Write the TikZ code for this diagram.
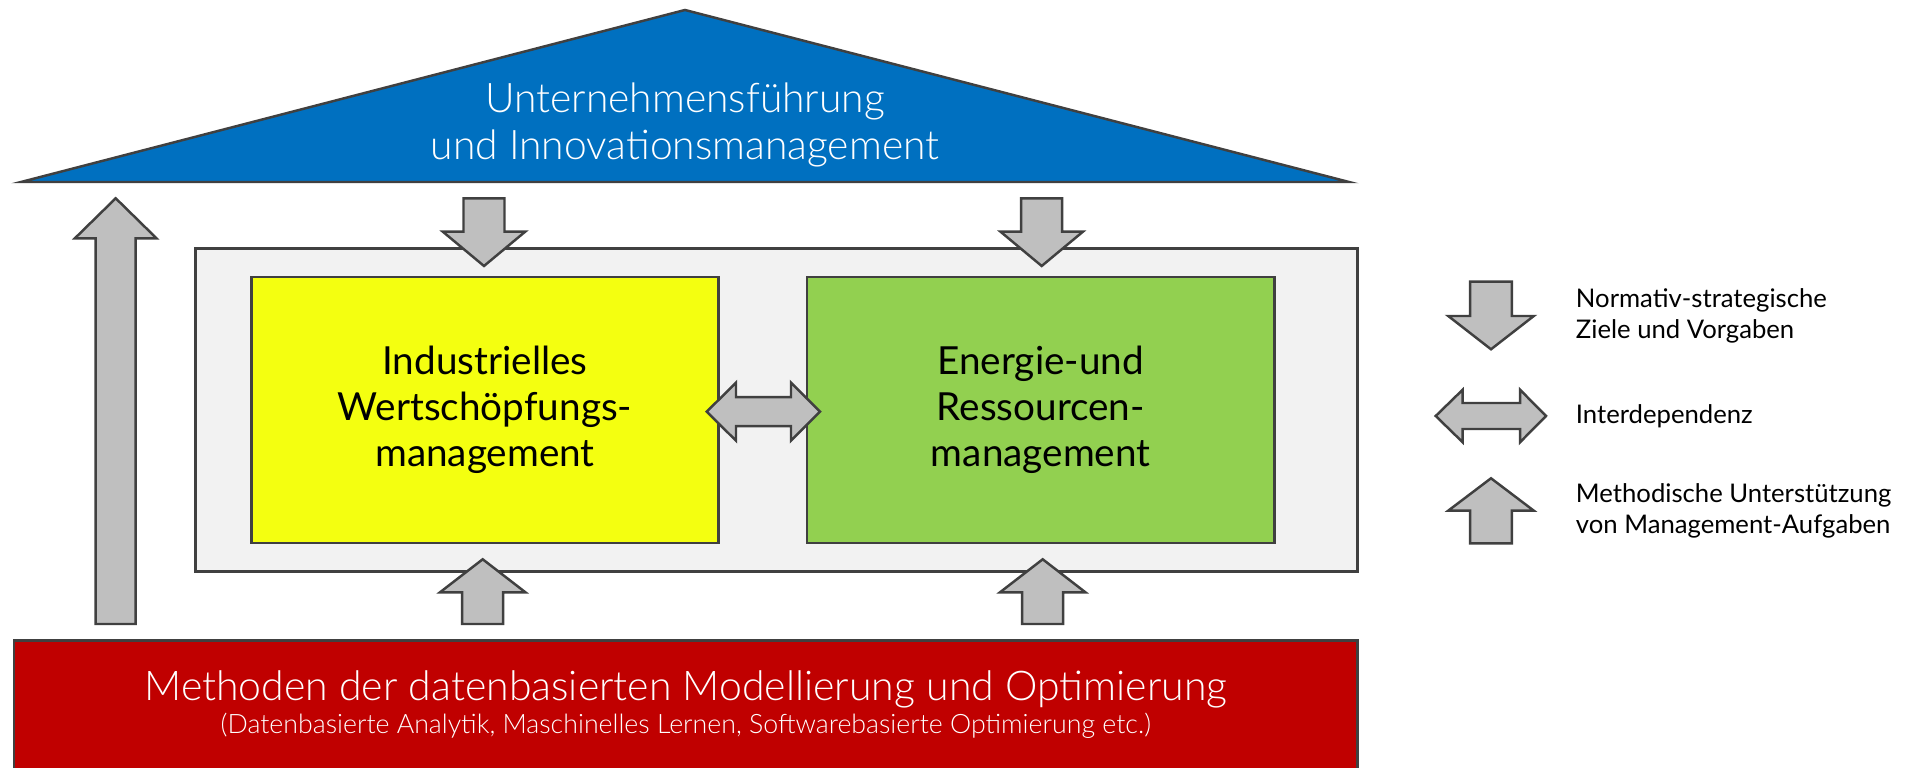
\documentclass[tikz,border=0pt]{standalone}
\usepackage{fontspec}
\setmainfont{Lato}
\newfontfamily\thinfont{Lato Light}
\definecolor{roofblue}{HTML}{0070C0}
\definecolor{wsyellow}{RGB}{244,255,16}
\definecolor{ergreen}{HTML}{92D050}
\definecolor{methred}{HTML}{C00000}
\definecolor{framegray}{HTML}{F2F2F2}
\definecolor{arrowgray}{HTML}{BFBFBF}
\definecolor{edgegray}{HTML}{404040}
\begin{document}
\begin{tikzpicture}[x=0.01cm, y=-0.01cm, line width=0.7pt, line join=miter,
  blockarrow/.style={draw=edgegray, fill=arrowgray},
  mgmtbox/.style={draw=edgegray, minimum width=4.67cm, minimum height=2.655cm, align=center, font=\fontsize{11}{13}\selectfont},
  legendtext/.style={anchor=west, align=left, font=\fontsize{7.3}{9}\selectfont}]
\useasboundingbox (0,0) rectangle (1915,768);
\draw[draw=edgegray, fill=roofblue] (21,182) -- (685,10) -- (1349,182) -- cycle; % roof
\node[text=white, align=center, font=\thinfont\fontsize{11.6}{13.6}\selectfont] (roof) at (685,125) {Unternehmensführung\\und Innovationsmanagement}; % roof label
\node[draw=edgegray, fill=framegray, minimum width=11.616cm, minimum height=3.224cm] (frame) at (776.5,410) {}; % frame
\node[mgmtbox, fill=wsyellow] (wsm) at (485,410) {Industrielles\\Wertschöpfungs-\\management}; % left box
\node[mgmtbox, fill=ergreen] (erm) at (1040.7,410) {Energie-und\\Ressourcen-\\management}; % right box
\draw[draw=edgegray, fill=methred] (14,640.7) rectangle (1357.3,790); % base
\node[text=white, font=\thinfont\fontsize{11.65}{13}\selectfont] (base) at (685.7,689) {Methoden der datenbasierten Modellierung und Optimierung}; % base label
\node[text=white, font=\thinfont\fontsize{7.6}{9}\selectfont] (basesub) at (685.7,726) {(Datenbasierte Analytik, Maschinelles Lernen, Softwarebasierte Optimierung etc.)}; % base sub label
\draw[blockarrow] (463.5,198.3) -- (504.5,198.3) -- (504.5,231.7) -- (525.2,231.7) -- (484,266) -- (442.8,231.7) -- (463.5,231.7) -- cycle; % down arrow left
\draw[blockarrow] (1021.2,198.3) -- (1062.2,198.3) -- (1062.2,231.7) -- (1082.9,231.7) -- (1041.7,266) -- (1000.5,231.7) -- (1021.2,231.7) -- cycle; % down arrow right
\draw[blockarrow] (482.7,559.3) -- (525.4,592.3) -- (503.2,592.3) -- (503.2,624) -- (462.2,624) -- (462.2,592.3) -- (440,592.3) -- cycle; % up arrow left
\draw[blockarrow] (1042.7,559.3) -- (1085.4,592.3) -- (1063.2,592.3) -- (1063.2,624) -- (1022.2,624) -- (1022.2,592.3) -- (1000,592.3) -- cycle; % up arrow right
\draw[blockarrow] (115.7,198.3) -- (156.5,238.3) -- (135.7,238.3) -- (135.7,624) -- (95.7,624) -- (95.7,238.3) -- (74.9,238.3) -- cycle; % long up arrow
\draw[blockarrow] (706.7,411.7) -- (736,382.7) -- (736,397.2) -- (791,397.2) -- (791,382.7) -- (820,411.7) -- (791,440.7) -- (791,426.2) -- (736,426.2) -- (736,440.7) -- cycle; % double arrow
\draw[blockarrow] (1470.2,281.7) -- (1511.8,281.7) -- (1511.8,316) -- (1533.8,316) -- (1491,349.3) -- (1448.2,316) -- (1470.2,316) -- cycle; % legend down
\draw[blockarrow] (1435.7,416) -- (1462.7,389.7) -- (1462.7,403) -- (1520,403) -- (1520,389.7) -- (1546,416) -- (1520,442.3) -- (1520,429) -- (1462.7,429) -- (1462.7,442.3) -- cycle; % legend double
\draw[blockarrow] (1491,478.3) -- (1533.8,510.7) -- (1511.8,510.7) -- (1511.8,543.3) -- (1470.2,543.3) -- (1470.2,510.7) -- (1448.2,510.7) -- cycle; % legend up
\node[legendtext] (lgdown) at (1563,316) {Normativ-strategische\\Ziele und Vorgaben};
\node[legendtext] (lgboth) at (1563,416) {Interdependenz};
\node[legendtext] (lgup) at (1563,511) {Methodische Unterstützung\\von Management-Aufgaben};
\end{tikzpicture}
\end{document}
